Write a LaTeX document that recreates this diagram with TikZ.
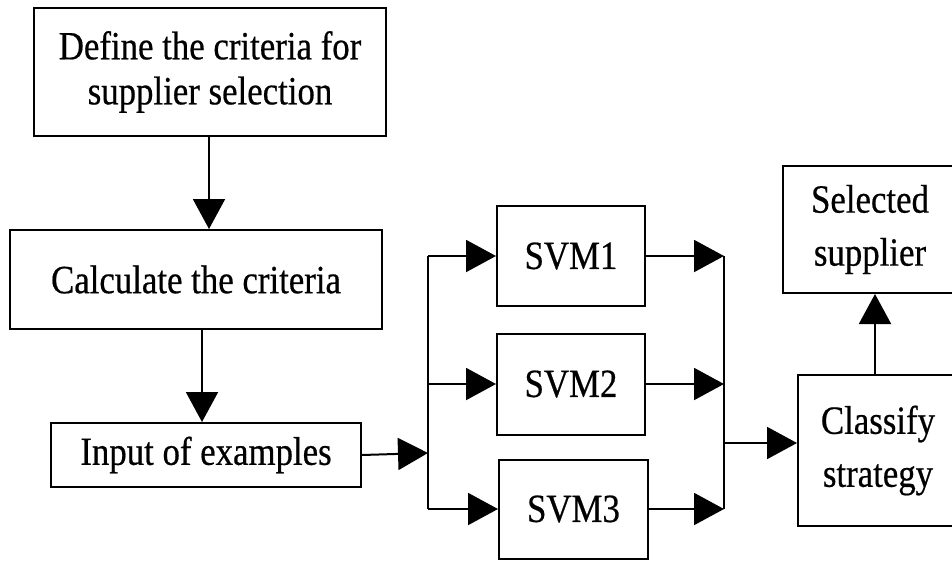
\documentclass[tikz,border=0pt]{standalone}
\usepackage{fontspec}
\setmainfont{Liberation Serif}[FakeStretch=0.87,FakeBold=0.5]
\usetikzlibrary{arrows.meta,calc}
\tikzset{
  box/.style={draw=black, line width=2pt, rectangle, inner sep=0pt,
    align=center, font=\fontsize{40}{45}\selectfont},
  loose/.style={font=\fontsize{40}{53}\selectfont},
  arr/.style={line width=2pt, -{Triangle[length=30pt,width=32pt]}},
  wire/.style={line width=2pt}
}
\begin{document}
\begin{tikzpicture}[x=1pt,y=-1pt]
  \useasboundingbox (0,0) rectangle (952,560);
  \clip (0,0) rectangle (952,560);
  \fill[white] (0,0) rectangle (952,560);

  % left column
  \node[box, minimum width=352pt, minimum height=128pt] (define) at (210,72)
    {Define the criteria for\\supplier selection};
  \node[box, minimum width=372pt, minimum height=99pt] (calc) at (196,279.5)
    {Calculate the criteria};
  \node[box, minimum width=310pt, minimum height=64pt] (input) at (206,455)
    {Input of examples};

  % classifiers
  \node[box, minimum width=148pt, minimum height=100pt] (svm1) at (571,256)
    {SVM1};
  \node[box, minimum width=148pt, minimum height=101pt] (svm2) at (571,384)
    {SVM2};
  \node[box, minimum width=149pt, minimum height=99pt] (svm3) at (573.5,509)
    {SVM3};

  % result boxes
  \node[box, loose, minimum width=174pt, minimum height=127pt] (selected) at (870,229.5)
    {Selected\\supplier};
  \node[box, loose, minimum width=160pt, minimum height=151pt] (classify) at (878,450.5)
    {Classify\\strategy};

  % bus positions
  \coordinate (split) at (428,453);
  \coordinate (merge) at (724,443);

  % vertical flow
  \draw[arr] ([xshift=-1pt]define.south) -- ([xshift=-1pt]define.south |- calc.north);
  \draw[arr] ([xshift=6pt]calc.south) -- ([xshift=6pt]calc.south |- input.north);

  % fan out to the classifiers
  \draw[arr] (input.east) -- (split);
  \draw[wire] (split |- svm1.west) -- (split |- svm3.west);
  \draw[arr] (split |- svm1.west) -- (svm1.west);
  \draw[arr] (split |- svm2.west) -- (svm2.west);
  \draw[arr] (split |- svm3.west) -- (svm3.west);

  % merge the classifier outputs
  \draw[arr] (svm1.east) -- (merge |- svm1.east);
  \draw[arr] (svm2.east) -- (merge |- svm2.east);
  \draw[arr] (svm3.east) -- (merge |- svm3.east);
  \draw[wire] (merge |- svm1.east) -- (merge |- svm3.east);
  \draw[arr] (merge) -- (merge -| classify.west);

  % final decision
  \draw[arr] ([xshift=-3pt]classify.north) -- ([xshift=-3pt]classify.north |- selected.south);
\end{tikzpicture}
\end{document}
